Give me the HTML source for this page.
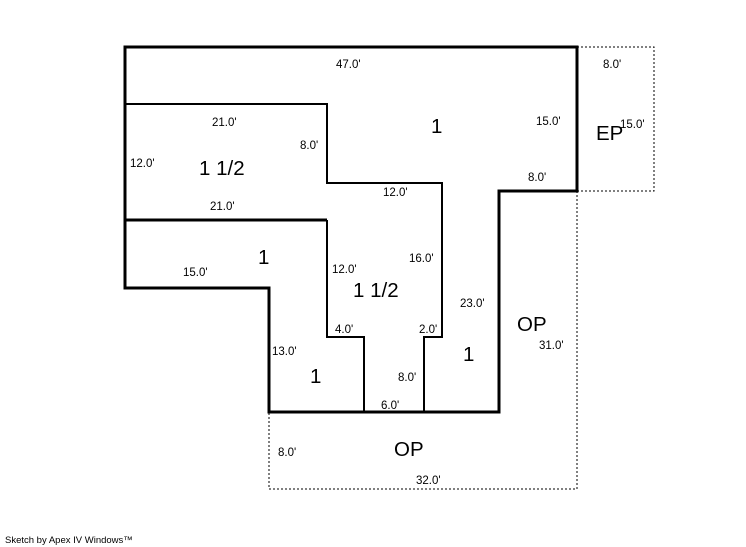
<!DOCTYPE html>
<html><head><style>body{margin:0;background:#fff}svg{display:block}</style></head><body>
<svg width="746" height="547" xmlns="http://www.w3.org/2000/svg" font-family="Liberation Sans, sans-serif">
<rect width="746" height="547" fill="#fff"/>
<g fill="none" stroke="#000" stroke-width="1" stroke-dasharray="2,2">
<polyline points="577,47 654,47 654,191 577,191"/>
<polyline points="577,191 577,489 269,489 269,412"/>
</g>
<g fill="none" stroke="#000" stroke-width="2">
<polyline points="125,104 327,104 327,183 442,183 442,337 424,337 424,412"/>
<polyline points="327,220 327,337 364,337 364,412"/>
</g>
<g fill="none" stroke="#000" stroke-width="3">
<polygon points="125,47 577,47 577,191 499,191 499,412 269,412 269,288 125,288"/>
<line x1="125" y1="220" x2="327" y2="220"/>
</g>
<g font-size="11.5" fill="#000">
<text x="336" y="68">47.0'</text>
<text x="603" y="68">8.0'</text>
<text x="212" y="126">21.0'</text>
<text x="536" y="125">15.0'</text>
<text x="620" y="128">15.0'</text>
<text x="300" y="149">8.0'</text>
<text x="130" y="167">12.0'</text>
<text x="528" y="181">8.0'</text>
<text x="383" y="196">12.0'</text>
<text x="210" y="210">21.0'</text>
<text x="409" y="262">16.0'</text>
<text x="183" y="276">15.0'</text>
<text x="332" y="273">12.0'</text>
<text x="460" y="307">23.0'</text>
<text x="335" y="333">4.0'</text>
<text x="419" y="333">2.0'</text>
<text x="539" y="349">31.0'</text>
<text x="272" y="355">13.0'</text>
<text x="398" y="381">8.0'</text>
<text x="381" y="409">6.0'</text>
<text x="278" y="456">8.0'</text>
<text x="416" y="484">32.0'</text>
</g>
<g font-size="20.5" fill="#000">
<text x="431" y="133">1</text>
<text x="596" y="140">EP</text>
<text x="199" y="175">1 1/2</text>
<text x="258" y="264">1</text>
<text x="353" y="297">1 1/2</text>
<text x="517" y="331">OP</text>
<text x="463" y="361">1</text>
<text x="310" y="383">1</text>
<text x="394" y="456">OP</text>
</g>
<text x="5" y="543" font-size="9.5" fill="#000">Sketch by Apex IV Windows™</text>
</svg>
</body></html>
